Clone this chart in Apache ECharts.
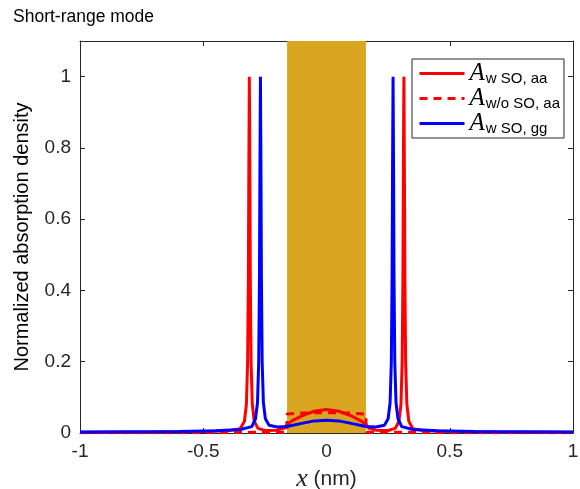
<!DOCTYPE html>
<html><head><meta charset="utf-8">
<script src="https://cdn.jsdelivr.net/npm/echarts@6/dist/echarts.min.js"></script>
<style>html,body{margin:0;padding:0;background:#fff}#c{width:580px;height:489px}</style>
</head><body><div id="c"></div>
<script>
var xTicks = [-1, -0.5, 0, 0.5, 1];
var yTicks = [0, 0.2, 0.4, 0.6, 0.8, 1];
var bandRange = [-0.16, 0.16];
var seriesNames = ['w SO, aa', 'w/o SO, aa', 'w SO, gg'];

var redSolidX = [-1,-0.7,-0.5,-0.4,-0.35,-0.333,-0.325,-0.32,-0.317,-0.315,-0.313,-0.311,-0.309,-0.306,-0.301,-0.293,-0.278,-0.25,-0.2,-0.17,-0.16,-0.14,-0.1,-0.05,0,0.05,0.1,0.14,0.16,0.17,0.2,0.25,0.279,0.294,0.302,0.307,0.310,0.312,0.314,0.316,0.318,0.321,0.326,0.334,0.35,0.4,0.5,0.7,1];
var redSolidY = [0.002,0.003,0.004,0.006,0.012,0.033,0.08,0.2,0.43,0.75,1.0,0.75,0.43,0.2,0.08,0.033,0.013,0.007,0.008,0.014,0.024,0.034,0.048,0.061,0.066,0.061,0.048,0.034,0.024,0.014,0.008,0.007,0.013,0.033,0.08,0.2,0.43,0.75,1.0,0.75,0.43,0.2,0.08,0.033,0.012,0.006,0.004,0.003,0.002];

var redDashX = [-1,-0.5,-0.3,-0.2,-0.161,-0.16,-0.1,0,0.1,0.16,0.161,0.2,0.3,0.5,1];
var redDashY = [0.001,0.001,0.002,0.002,0.002,0.053,0.056,0.057,0.056,0.053,0.002,0.002,0.002,0.001,0.001];

var blueX = [-1,-0.6,-0.45,-0.35,-0.303,-0.288,-0.28,-0.275,-0.272,-0.27,-0.268,-0.266,-0.264,-0.261,-0.256,-0.248,-0.233,-0.2,-0.16,-0.1,-0.05,0,0.05,0.1,0.16,0.2,0.235,0.25,0.258,0.263,0.266,0.268,0.270,0.272,0.274,0.277,0.282,0.29,0.305,0.35,0.45,0.6,1];
var blueY = [0.003,0.004,0.006,0.01,0.018,0.04,0.085,0.2,0.43,0.75,1.0,0.75,0.43,0.2,0.085,0.04,0.022,0.017,0.018,0.027,0.034,0.036,0.034,0.027,0.018,0.017,0.022,0.04,0.085,0.2,0.43,0.75,1.0,0.75,0.43,0.2,0.085,0.04,0.018,0.01,0.006,0.004,0.003];

function pairs(xs, ys){ return xs.map(function(x,i){ return [x, ys[i]]; }); }

var axisColor = '#262626';
var font = '"Liberation Sans", Arial, sans-serif';
var serif = '"Liberation Serif","DejaVu Serif",serif';
var chart = echarts.init(document.getElementById('c'), null, {renderer:'canvas'});
var rich = {
  a: {fontFamily:serif, fontStyle:'italic', fontSize:25, color:'#000'},
  s: {fontFamily:font, fontSize:15, color:'#000', padding:[10,0,0,1]}
};
chart.setOption({
  animation:false,
  backgroundColor:'#fff',
  title:{text:'Short-range mode', left:8, top:3, textStyle:{fontFamily:font, fontSize:17.5, fontWeight:'normal', color:'#000'}},
  grid:{left:80, right:7, top:41, bottom:56, containLabel:false, outerBoundsMode:'none'},
  legend:{
    orient:'vertical', left:412, top:59, width:153,
    backgroundColor:'#fff', borderColor:'#262626', borderWidth:1,
    padding:[2,4,2,6], itemGap:0, itemWidth:45, itemHeight:24,
    data:seriesNames,
    itemStyle:{color:'transparent', borderWidth:0, opacity:0},
    lineStyle:{width:3},
    formatter:function(n){ return '{a|A}{s|'+n+'}'; },
    textStyle:{rich:rich}
  },
  xAxis:[{
    type:'value', min:-1, max:1, interval:0.5,
    axisLine:{onZero:false, lineStyle:{color:axisColor, width:1}},
    axisTick:{inside:true, length:5, lineStyle:{color:axisColor}},
    axisLabel:{fontFamily:font, fontSize:19, color:'#262626', margin:9, formatter:function(v){return String(v);}},
    splitLine:{show:false},
    name:'{x|x} (nm)', nameLocation:'middle', nameGap:33,
    nameTextStyle:{fontFamily:font, fontSize:21, color:'#262626', rich:{x:{fontFamily:serif, fontStyle:'italic', fontSize:26, color:'#262626'}}}
  },{
    type:'value', position:'top', min:-1, max:1, interval:0.5,
    axisLine:{onZero:false, lineStyle:{color:axisColor, width:1}},
    axisTick:{inside:true, length:5, lineStyle:{color:axisColor}},
    axisLabel:{show:false}, splitLine:{show:false}
  }],
  yAxis:[{
    type:'value', min:0, max:1.1,
    axisLine:{show:true, onZero:false, lineStyle:{color:axisColor, width:1}},
    axisTick:{inside:true, length:5, customValues:yTicks, lineStyle:{color:axisColor}},
    axisLabel:{fontFamily:font, fontSize:19, color:'#262626', margin:9, customValues:yTicks, formatter:function(v){return String(v);}},
    splitLine:{show:false},
    name:'Normalized absorption density', nameLocation:'middle', nameGap:48,
    nameTextStyle:{fontFamily:font, fontSize:20, color:'#000'}
  },{
    type:'value', position:'right', min:0, max:1.1,
    axisLine:{show:true, onZero:false, lineStyle:{color:axisColor, width:1}},
    axisTick:{inside:true, length:5, customValues:yTicks, lineStyle:{color:axisColor}},
    axisLabel:{show:false}, splitLine:{show:false}
  }],
  series:[
    {name:'band', type:'line', data:[], silent:true,
     markArea:{silent:true, itemStyle:{color:'#DAA520', opacity:1}, data:[[{xAxis:bandRange[0]},{xAxis:bandRange[1]}]]}, z:1},
    {name:seriesNames[0], type:'line', data:pairs(redSolidX, redSolidY), showSymbol:false, symbol:'none', lineStyle:{color:'#FF0000', width:3}, itemStyle:{color:'#FF0000'}, z:3},
    {name:seriesNames[1], type:'line', data:pairs(redDashX, redDashY), showSymbol:false, symbol:'none', lineStyle:{color:'#FF0000', width:3, type:[8,6]}, itemStyle:{color:'#FF0000'}, z:3},
    {name:seriesNames[2], type:'line', data:pairs(blueX, blueY), showSymbol:false, symbol:'none', lineStyle:{color:'#0000FF', width:3}, itemStyle:{color:'#0000FF'}, z:4}
  ]
});
</script></body></html>
